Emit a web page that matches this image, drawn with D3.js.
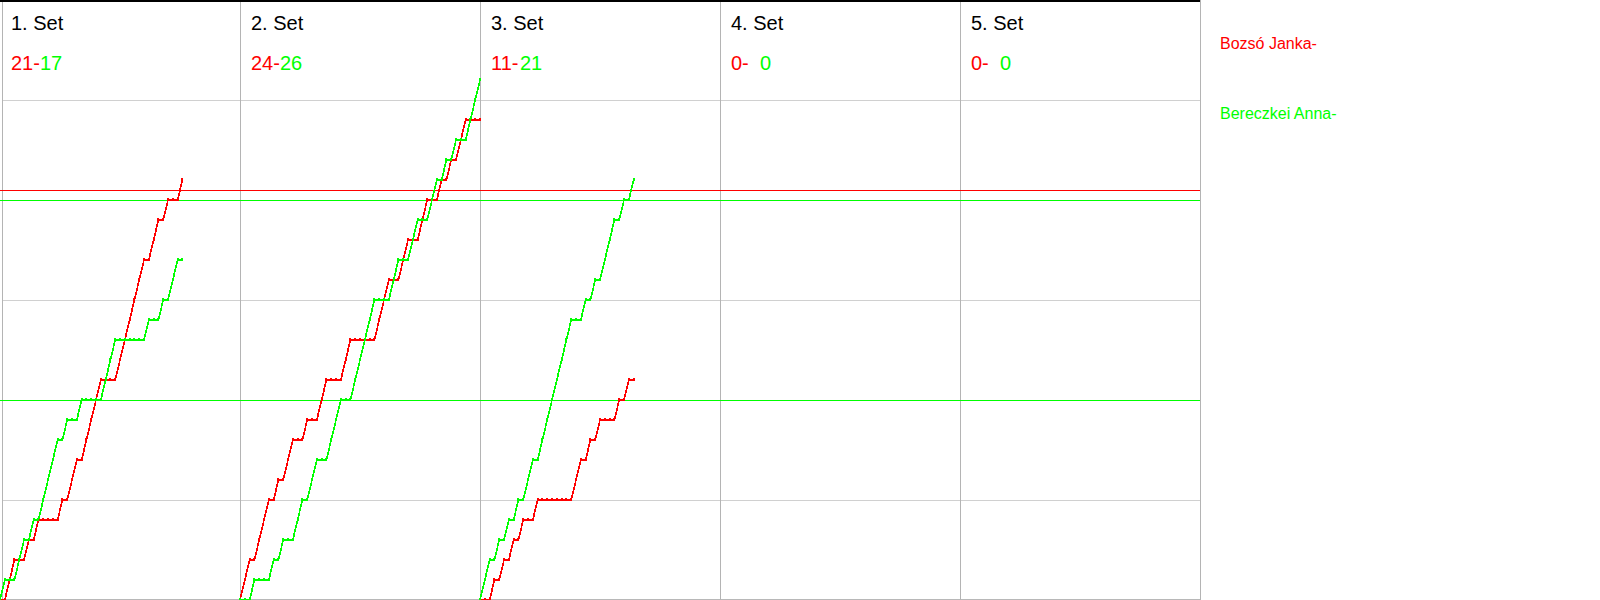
<!DOCTYPE html>
<html><head><meta charset="utf-8">
<script src="https://cdn.jsdelivr.net/npm/d3@7"></script>
<style>html,body{margin:0;padding:0;background:#fff;} svg{display:block;}</style>
</head><body>
<svg id="chart" width="1600" height="600"></svg>
<script>
// ---- data ----
const setNames = ["1. Set", "2. Set", "3. Set", "4. Set", "5. Set"];
const playerNames = ["Bozsó Janka-", "Bereczkei Anna-"];
const finalRed = [21, 24, 11, 0, 0];
const finalGreen = [17, 26, 21, 0, 0];
// rally winners per set (R = Bozsó Janka, G = Bereczkei Anna)
const set1Rallies = "GRRGGRGRGGGGRGRRGRRRRGGGRRRRRRGRRGRGGR";
const set2Rallies = "RRGRRRGRGRRGGRGGRRGGGRRGGGGGRRRGGRRGGRRGGRGRGRRGGG";
const set3Rallies = "GGRGRGRGRGGRGGGGGGGRRGRGRGGGRGRG";
const set4Rallies = "";
const set5Rallies = "";
const gridScores = [5, 15, 25];
const redRefScores = [20.5];
const greenRefScores = [20, 10];

const RED = "#ff0000", GREEN = "#00ff00";
const svg = d3.select("#chart");
const plotW = 1200, plotH = 600;

const xSet = d3.scaleBand().domain(setNames).range([0, plotW]);
const xRally = d3.scaleLinear().domain([0, 50]).range([0, xSet.bandwidth()]);
const y = d3.scaleLinear().domain([0, 30]).range([plotH, 0]);

const ralliesBySet = [set1Rallies, set2Rallies, set3Rallies, set4Rallies, set5Rallies];

// gridlines
svg.append("g").selectAll("line").data(gridScores).join("line")
  .attr("x1", 2).attr("x2", plotW)
  .attr("y1", d => Math.round(y(d)) + 0.5).attr("y2", d => Math.round(y(d)) + 0.5)
  .attr("stroke", "#d0d0d0").attr("stroke-width", 1).attr("shape-rendering", "crispEdges");
// bottom line
svg.append("line").attr("x1", 2).attr("x2", plotW).attr("y1", plotH - 0.5).attr("y2", plotH - 0.5)
  .attr("stroke", "#b8b8b8").attr("stroke-width", 1).attr("shape-rendering", "crispEdges");

// set dividers
const dividerXs = [2].concat(setNames.map(s => xSet(s) + xSet.bandwidth()));
svg.append("g").selectAll("line").data(dividerXs).join("line")
  .attr("x1", d => d + 0.5).attr("x2", d => d + 0.5)
  .attr("y1", 0).attr("y2", plotH)
  .attr("stroke", "#b4b4b4").attr("stroke-width", 1).attr("shape-rendering", "crispEdges");

// reference lines
svg.append("g").selectAll("line").data(redRefScores).join("line")
  .attr("x1", 0).attr("x2", plotW)
  .attr("y1", d => y(d) + 0.5).attr("y2", d => y(d) + 0.5)
  .attr("stroke", RED).attr("stroke-width", 1.3).attr("shape-rendering", "crispEdges");
svg.append("g").selectAll("line").data(greenRefScores).join("line")
  .attr("x1", 0).attr("x2", plotW)
  .attr("y1", d => y(d) + 0.5).attr("y2", d => y(d) + 0.5)
  .attr("stroke", GREEN).attr("stroke-width", 1.3).attr("shape-rendering", "crispEdges");

// score progressions
ralliesBySet.forEach((seq, i) => {
  if (!seq.length) return;
  const x0 = xSet(setNames[i]);
  let r = 0, g = 0;
  const red = [[0, 0]], green = [[0, 0]];
  seq.split("").forEach((w, k) => {
    if (w === "R") r++; else g++;
    red.push([k + 1, r]); green.push([k + 1, g]);
  });
  const line = d3.line().x(d => x0 + xRally(d[0])).y(d => y(d[1]));
  [[red, RED], [green, GREEN]].forEach(([pts, col]) => {
    const grp = svg.append("g");
    grp.append("path").attr("d", line(pts)).attr("fill", "none")
      .attr("stroke", col).attr("stroke-width", 1.7).attr("shape-rendering", "crispEdges");
    grp.selectAll("rect").data(pts).join("rect")
      .attr("x", d => Math.round(x0 + xRally(d[0])) - 1)
      .attr("y", d => Math.round(y(d[1])) - 2)
      .attr("width", 2).attr("height", 3)
      .attr("fill", col).attr("shape-rendering", "crispEdges");
  });
});

// titles and set scores
const font = "'Liberation Sans', Arial, sans-serif";
setNames.forEach((name, i) => {
  const x0 = xSet(name);
  svg.append("text").attr("x", x0 + 11).attr("y", 30)
    .attr("font-family", font).attr("font-size", 20).attr("fill", "#000").text(name);
  svg.append("text").attr("x", x0 + 11).attr("y", 70)
    .attr("font-family", font).attr("font-size", 20).attr("fill", RED).text(finalRed[i] + "-");
  svg.append("text").attr("x", x0 + 40).attr("y", 70)
    .attr("font-family", font).attr("font-size", 20).attr("fill", GREEN).text(finalGreen[i]);
});

// legend
svg.append("text").attr("x", 1220).attr("y", 49).attr("font-family", font).attr("font-size", 16)
  .attr("fill", RED).text(playerNames[0]);
svg.append("text").attr("x", 1220).attr("y", 119).attr("font-family", font).attr("font-size", 16)
  .attr("fill", GREEN).text(playerNames[1]);

// top border
svg.append("line").attr("x1", 0).attr("x2", plotW).attr("y1", 0.75).attr("y2", 0.75)
  .attr("stroke", "#000").attr("stroke-width", 1.5).attr("shape-rendering", "crispEdges");
</script>
</body></html>
